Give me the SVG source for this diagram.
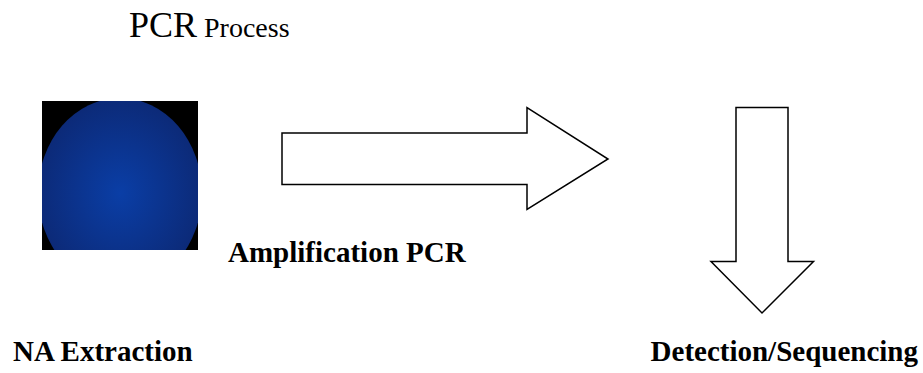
<svg xmlns="http://www.w3.org/2000/svg" width="923" height="373" viewBox="0 0 923 373">
  <style>
    text { font-family: "Liberation Serif", "Times New Roman", serif; fill: #000; }
    .lbl { font-weight: bold; font-size: 29px; }
    .arrow { fill: #fff; stroke: #000; stroke-width: 1.5; stroke-linejoin: miter; }
  </style>
  <defs>
    <radialGradient id="blueGrad" cx="0.5" cy="0.5" r="0.5">
      <stop offset="0" stop-color="#0a3ea6"/>
      <stop offset="1" stop-color="#0c2a78"/>
    </radialGradient>
    <clipPath id="boxClip">
      <rect x="42" y="101" width="156" height="149"/>
    </clipPath>
  </defs>

  <g id="title">
    <text x="129" y="37"><tspan font-size="36">PCR</tspan><tspan font-size="28"> Process</tspan></text>
  </g>

  <g id="extraction">
    <rect x="42" y="101" width="156" height="149" fill="#000"/>
    <ellipse cx="120" cy="193" rx="82" ry="95" fill="url(#blueGrad)" clip-path="url(#boxClip)"/>
    <text class="lbl" x="13" y="361">NA Extraction</text>
  </g>

  <g id="amplification">
    <text class="lbl" x="228" y="262">Amplification PCR</text>
  </g>

  <g id="detection">
    <text class="lbl" x="918" y="361" text-anchor="end">Detection/Sequencing</text>
  </g>

  <g id="connectors">
    <polygon class="arrow" points="282,133 527,133 527,107.5 608,159 527,209.5 527,184.5 282,184.5"/>
    <polygon class="arrow" points="736,107.5 788,107.5 788,261.5 813.5,261.5 762,313 711,261.5 736,261.5"/>
  </g>
</svg>
